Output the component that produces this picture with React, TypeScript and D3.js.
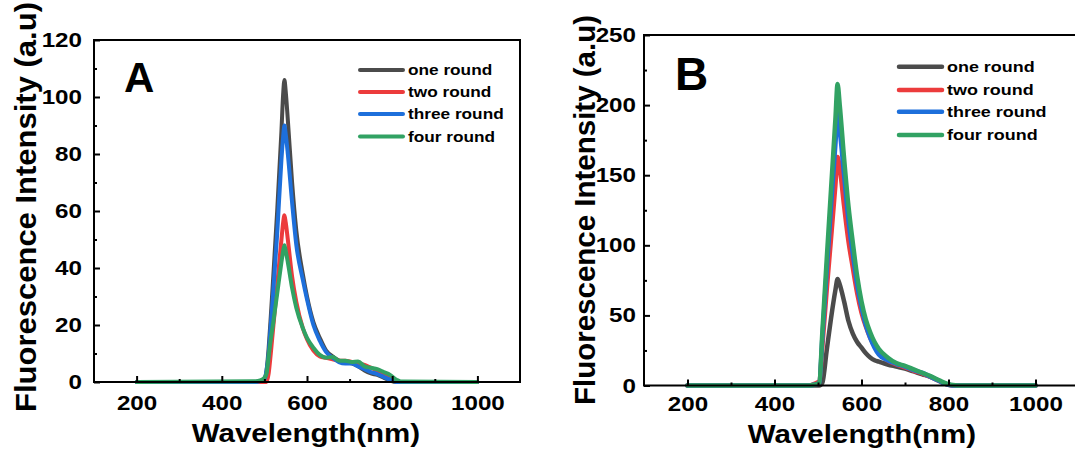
import React, { useEffect, useRef } from 'react';
import * as d3 from 'd3';

// legend names + colours, drawn in this order (green ends up on top)
const seriesNames = ['one round', 'two round', 'three round', 'four round'];
const seriesColors = ['#4b4b4b', '#ec3b3c', '#1d6fdb', '#31a263'];

// panel A – wavelength grid (nm) and intensities (a.u)
const waveA = [200, 480, 490, 500, 505, 510, 515, 520, 530, 540, 544, 547, 550, 555, 565, 575, 590, 600, 615, 630, 645, 660, 675, 690, 705, 720, 735, 750, 765, 780, 795, 810, 820, 1000];
const oneRoundA = [0, 0, 0.3, 1, 4, 12, 23, 35, 60, 88, 101, 106, 102, 92, 70, 53, 38, 30, 21, 15.5, 11, 9, 7.5, 7, 6.5, 5.5, 4, 3, 2.5, 1.5, 0.5, 0, 0, 0];
const twoRoundA = [0, 0, 0, 0, 0, 3, 10, 18, 34, 50, 56, 58.5, 56, 50, 37, 28, 19, 15, 11, 9, 8.5, 8, 7.5, 7.5, 7, 6.5, 6, 5, 4, 3, 1.8, 0.5, 0, 0];
const threeRoundA = [0, 0, 0.3, 1, 4, 10, 20, 30, 52, 78, 86, 90, 87, 80, 63, 48, 36, 29, 20, 14.5, 10.5, 8.5, 7, 6.5, 6.5, 5.5, 4.5, 3.5, 2.8, 1.8, 0.8, 0, 0, 0];
const fourRoundA = [0, 0.3, 0.6, 1.5, 3, 9, 15, 20, 31, 42, 46, 48, 46, 42, 33, 26, 19, 15.5, 12, 9.5, 8.5, 8.8, 7.5, 7.5, 7, 7.2, 5.5, 5, 4.5, 3.5, 2.5, 0.8, 0.2, 0];

// panel B
const waveB = [200, 480, 490, 497, 503, 510, 520, 530, 540, 545, 550, 560, 570, 580, 590, 600, 610, 620, 630, 640, 660, 680, 700, 720, 740, 760, 780, 790, 800, 810, 820, 1000];
const oneRoundB = [0, 0, 0, 0, 0, 2, 25, 48, 68, 76, 72, 60, 46, 37, 31, 27, 23, 20, 18, 17, 15, 13.5, 12, 10, 8, 6, 3, 1.5, 0.5, 0, 0, 0];
const twoRoundB = [0, 0, 1, 2, 3, 28, 68, 105, 143, 163, 155, 128, 103, 84, 66, 52, 42, 34, 28, 23, 18, 15, 13, 10.5, 8.5, 6, 3, 1.5, 0.5, 0, 0, 0];
const threeRoundB = [0, 0, 0.5, 1, 2, 34, 82, 128, 172, 194, 182, 150, 118, 94, 72, 56, 43, 34, 27, 22, 18, 15.5, 13.5, 11, 9, 6, 3, 1.5, 0.5, 0, 0, 0];
const fourRoundB = [0, 0, 0.5, 1, 2, 38, 90, 140, 190, 215, 200, 162, 128, 102, 78, 60, 47, 38, 31, 26, 20, 16, 14, 11.5, 9, 6.5, 3.5, 2, 1, 0.3, 0, 0];

const xMajor = [200, 400, 600, 800, 1000];
const xMinor = [300, 500, 700, 900];
const yMajorA = [0, 20, 40, 60, 80, 100, 120];
const yMinorA = [10, 30, 50, 70, 90, 110];
const yMajorB = [0, 50, 100, 150, 200, 250];
const yMinorB = [25, 75, 125, 175, 225];

const FONT = '"Liberation Sans", Arial, Helvetica, sans-serif';
const STRETCH = 1.18; // the source picture is a bit wider than tall

const panels = [
  {
    label: 'A', labelX: 124, labelY: 92, labelSize: 42,
    left: 94, right: 520, top: 40, bottom: 382,
    xDomain: [100, 1100], yDomain: [0, 120],
    yMajor: yMajorA, yMinor: yMinorA,
    wave: waveA, series: [oneRoundA, twoRoundA, threeRoundA, fourRoundA],
    lw: 4,
    xPad: 13.8, yPad: 12,
    legX1: 360, legX2: 403, legTx: 408, legRows: [70, 92, 114, 136.5], legSize: 14.6,
    yTitleX: 36, yTitleY: 412, yTitleLen: 410,
    xTitleX: 306, xTitleY: 441.5,
  },
  {
    label: 'B', labelX: 675, labelY: 90, labelSize: 46,
    left: 644, right: 1079, top: 35, bottom: 385.5,
    xDomain: [100, 1100], yDomain: [0, 250],
    yMajor: yMajorB, yMinor: yMinorB,
    wave: waveB, series: [oneRoundB, twoRoundB, threeRoundB, fourRoundB],
    lw: 4.5,
    xPad: 11.3, yPad: 8,
    legX1: 899, legX2: 942, legTx: 947, legRows: [66.7, 90, 111.7, 135], legSize: 15.2,
    yTitleX: 595, yTitleY: 405, yTitleLen: 390,
    xTitleX: 862, xTitleY: 443,
  },
];

function stretchText(sel: any) {
  sel.each(function (this: any) {
    const w = this.getComputedTextLength();
    d3.select(this).attr('textLength', w * STRETCH).attr('lengthAdjust', 'spacingAndGlyphs');
  });
}

function drawPanel(svg: any, p: any) {
  const x = d3.scaleLinear().domain(p.xDomain).range([p.left, p.right]);
  const y = d3.scaleLinear().domain(p.yDomain).range([p.bottom, p.top]);
  const g = svg.append('g');

  // spectra
  const line = d3.line<[number, number]>()
    .x((d) => x(d[0]))
    .y((d) => y(d[1]))
    .curve(d3.curveMonotoneX);
  p.series.forEach((vals: number[], i: number) => {
    g.append('path')
      .datum(p.wave.map((w: number, j: number) => [w, vals[j]]))
      .attr('d', line)
      .attr('fill', 'none')
      .attr('stroke', seriesColors[i])
      .attr('stroke-width', p.lw)
      .attr('stroke-linejoin', 'round')
      .attr('stroke-linecap', 'round');
  });

  // frame
  g.append('rect')
    .attr('x', p.left).attr('y', p.top)
    .attr('width', p.right - p.left).attr('height', p.bottom - p.top)
    .attr('fill', 'none').attr('stroke', '#000').attr('stroke-width', 2);

  const fmt = d3.format('d');

  // x axis
  const xAx = g.append('g').attr('transform', `translate(0,${p.bottom})`)
    .call(d3.axisBottom(x).tickValues(xMajor).tickSize(-6).tickPadding(p.xPad).tickFormat(fmt));
  g.append('g').attr('transform', `translate(0,${p.bottom})`)
    .call(d3.axisBottom(x).tickValues(xMinor).tickSize(-3).tickFormat(() => ''));

  // y axis
  const yAx = g.append('g').attr('transform', `translate(${p.left},0)`)
    .call(d3.axisLeft(y).tickValues(p.yMajor).tickSize(-6).tickPadding(p.yPad).tickFormat(fmt));
  g.append('g').attr('transform', `translate(${p.left},0)`)
    .call(d3.axisLeft(y).tickValues(p.yMinor).tickSize(-3).tickFormat(() => ''));

  g.selectAll('.domain').remove();
  g.selectAll('.tick line').attr('stroke', '#000').attr('stroke-width', 2);
  [xAx, yAx].forEach((ax) => {
    ax.selectAll('text')
      .attr('fill', '#000')
      .style('font-family', FONT)
      .style('font-size', '20.5px')
      .style('font-weight', 'bold')
      .call(stretchText);
  });

  // panel letter
  g.append('text')
    .attr('x', p.labelX).attr('y', p.labelY)
    .style('font-family', FONT).style('font-weight', 'bold')
    .style('font-size', `${p.labelSize}px`)
    .text(p.label);

  // legend
  seriesNames.forEach((name, i) => {
    const ry = p.legRows[i];
    g.append('line')
      .attr('x1', p.legX1).attr('x2', p.legX2).attr('y1', ry).attr('y2', ry)
      .attr('stroke', seriesColors[i]).attr('stroke-width', p.lw)
      .attr('stroke-linecap', 'round');
    g.append('text')
      .attr('x', p.legTx).attr('y', ry).attr('dy', '0.35em')
      .style('font-family', FONT).style('font-weight', 'bold')
      .style('font-size', `${p.legSize}px`)
      .text(name)
      .call(stretchText);
  });

  // axis titles
  g.append('text')
    .attr('x', p.xTitleX).attr('y', p.xTitleY)
    .attr('text-anchor', 'middle')
    .style('font-family', FONT).style('font-weight', 'bold').style('font-size', '25px')
    .text('Wavelength(nm)')
    .call(stretchText);

  g.append('text')
    .attr('transform', `translate(${p.yTitleX},${p.yTitleY}) rotate(-90)`)
    .attr('text-anchor', 'start')
    .attr('textLength', p.yTitleLen).attr('lengthAdjust', 'spacingAndGlyphs')
    .style('font-family', FONT).style('font-weight', 'bold').style('font-size', '30px')
    .text('Fluorescence Intensity (a.u)');
}

export default function App() {
  const svgRef = useRef<SVGSVGElement>(null);

  useEffect(() => {
    const svg = d3.select(svgRef.current);
    svg.selectAll('*').remove();
    panels.forEach((p) => drawPanel(svg, p));
  }, []);

  return (
    <div style={{ position: 'absolute', left: 0, top: 0 }}>
      <svg ref={svgRef} width={1075} height={452} style={{ display: 'block', background: '#fff' }} />
    </div>
  );
}
